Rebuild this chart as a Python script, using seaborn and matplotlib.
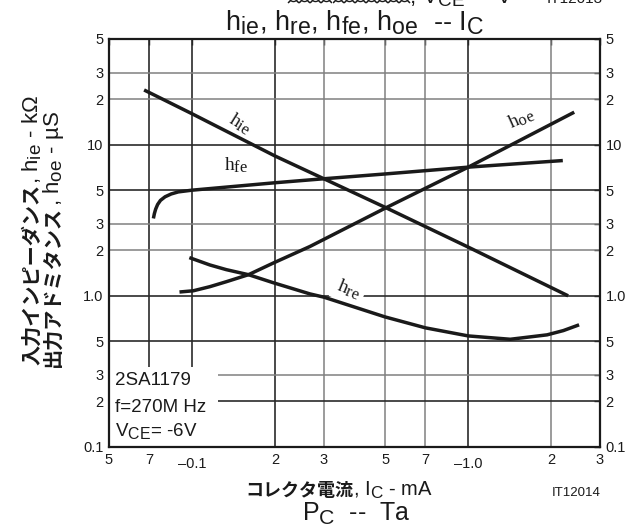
import matplotlib
matplotlib.use('Agg')
import matplotlib.pyplot as plt
import seaborn as sns
import pandas as pd
from matplotlib.patches import Rectangle
from matplotlib.transforms import ScaledTranslation
from matplotlib.ticker import FixedLocator, FixedFormatter, NullLocator

try:
    import matplotlib._mathtext as _mt
    _mt.SHRINK_FACTOR = 0.85
except Exception:
    pass

# ---------------- data ----------------
hie_ic = [0.067, 0.1, 0.2, 0.3, 0.5, 1.0, 2.3]
hie_val = [23.0, 16.0, 8.4, 5.95, 3.85, 2.1, 1.0]

hfe_ic = [0.0724, 0.0730, 0.0738, 0.0750, 0.0768, 0.0798, 0.0840, 0.0891, 0.1, 0.2, 0.3, 0.5, 1.0, 2.2]
hfe_val = [3.25, 3.50, 3.75, 4.02, 4.28, 4.52, 4.72, 4.87, 5.0, 5.6, 5.95, 6.4, 7.1, 7.85]

hoe_ic = [0.090, 0.101, 0.116, 0.133, 0.160, 0.197, 0.267, 0.5, 1.0, 2.42]
hoe_val = [1.06, 1.08, 1.15, 1.24, 1.38, 1.65, 2.12, 3.8, 7.1, 16.4]

hre_ic = [0.0977, 0.116, 0.133, 0.160, 0.197, 0.267, 0.3, 0.5, 0.7, 1.0, 1.42, 1.93, 2.21, 2.52]
hre_val = [1.79, 1.60, 1.49, 1.38, 1.22, 1.03, 0.98, 0.725, 0.614, 0.543, 0.516, 0.552, 0.589, 0.643]

x_ticks = [0.05, 0.07, 0.1, 0.2, 0.3, 0.5, 0.7, 1.0, 2.0, 3.0]
x_tick_labels = ['5', '7', '–0.1', '2', '3', '5', '7', '–1.0', '2', '3']
y_ticks = [0.1, 0.2, 0.3, 0.5, 1.0, 2, 3, 5, 10, 20, 30, 50]
y_tick_labels = ['0.1', '2', '3', '5', '1.0', '2', '3', '5', '10', '2', '3', '5']

x_grid_dark = [0.07, 0.1, 0.2, 1.0]
x_grid_light = [0.3, 0.5, 0.7, 2.0]
y_grid_dark = [0.2, 0.5, 1.0, 5, 10]
y_grid_light = [0.3, 2, 3, 20, 30]

# ---------------- style ----------------
sns.set_theme(style='white')
plt.rcParams['font.family'] = ['Liberation Sans', 'Noto Sans CJK JP', 'DejaVu Sans']
plt.rcParams['mathtext.fontset'] = 'custom'
plt.rcParams['mathtext.rm'] = 'Liberation Serif'
plt.rcParams['mathtext.it'] = 'Liberation Serif:italic'
plt.rcParams['mathtext.bf'] = 'Liberation Sans:bold'
plt.rcParams['mathtext.sf'] = 'Liberation Sans'
plt.rcParams['text.color'] = '#1a1a1a'

W, H = 632, 525
fig = plt.figure(figsize=(W / 100, H / 100), dpi=100)
L, R, T, B = 109, 600, 39, 447
ax = fig.add_axes([L / W, 1 - B / H, (R - L) / W, (B - T) / H])
ax.set_xscale('log')
ax.set_yscale('log')

# grid
for v in x_grid_dark:
    ax.axvline(v, color='#2a2a2a', lw=1.2, zorder=1)
for v in x_grid_light:
    ax.axvline(v, color='#808080', lw=1.1, zorder=1)
for v in y_grid_dark:
    ax.axhline(v, color='#2a2a2a', lw=1.2, zorder=1)
for v in y_grid_light:
    ax.axhline(v, color='#808080', lw=1.1, zorder=1)

# white panel behind the note text
ax.add_patch(Rectangle((0, 0), (218 - L) / (R - L), (B - 367) / (B - T),
                       transform=ax.transAxes, facecolor='white', edgecolor='none', zorder=1.5))

# curves
df = pd.concat([
    pd.DataFrame({'ic': hie_ic, 'val': hie_val, 'param': 'hie'}),
    pd.DataFrame({'ic': hfe_ic, 'val': hfe_val, 'param': 'hfe'}),
    pd.DataFrame({'ic': hoe_ic, 'val': hoe_val, 'param': 'hoe'}),
    pd.DataFrame({'ic': hre_ic, 'val': hre_val, 'param': 'hre'}),
], ignore_index=True)
sns.lineplot(data=df, x='ic', y='val', hue='param', palette=['#1a1a1a'] * 4,
             estimator=None, sort=False, legend=False, lw=2.5, ax=ax, zorder=3)
for ln in ax.get_lines()[-4:]:
    ln.set_solid_capstyle('butt')
    ln.set_solid_joinstyle('round')

ax.set_xlim(0.05, 3)
ax.set_ylim(0.1, 50)
ax.set_xlabel('')
ax.set_ylabel('')

ax.xaxis.set_major_locator(FixedLocator(x_ticks))
ax.xaxis.set_major_formatter(FixedFormatter(x_tick_labels))
ax.xaxis.set_minor_locator(NullLocator())
ax.yaxis.set_major_locator(FixedLocator(y_ticks))
ax.yaxis.set_major_formatter(FixedFormatter(y_tick_labels))
ax.yaxis.set_minor_locator(NullLocator())
ax.tick_params(which='both', direction='in', length=4, width=1, color='#1a1a1a',
               top=True, right=True, labelright=True, labelsize=10.5, pad=4,
               labelcolor='#1a1a1a')
for lab in ax.get_xticklabels():
    if lab.get_text().startswith('–'):
        lab.set_transform(lab.get_transform() + ScaledTranslation(0, -3 / 72, fig.dpi_scale_trans))
for sp in ax.spines.values():
    sp.set_color('#1a1a1a')
    sp.set_linewidth(1.6)
    sp.set_zorder(4)

def fx(px):
    return (px - L) / (R - L)

def fy(py):
    return (B - py) / (B - T)

# curve labels
lab_kw = dict(transform=ax.transAxes, fontsize=14, ha='center', va='center', zorder=4)
ax.text(fx(240), fy(124), r'$\mathrm{h_{ie}}$', rotation=-32, **lab_kw)
ax.text(fx(236), fy(165), r'$\mathrm{h_{fe}}$', rotation=0, **lab_kw)
ax.text(fx(521), fy(119), r'$\mathrm{h_{oe}}$', rotation=24, **lab_kw)
lab_kw2 = dict(lab_kw, zorder=2.2)
ax.text(fx(349), fy(289), r'$\mathrm{h_{re}}$', rotation=-22,
        bbox=dict(facecolor='white', edgecolor='none', pad=3), **lab_kw2)

# note
note_kw = dict(transform=ax.transAxes, fontsize=13.5, ha='left', va='baseline', zorder=4)
ax.text(fx(115), fy(385), '2SA1179', **note_kw)
ax.text(fx(115), fy(412), 'f=270M Hz', **note_kw)
ax.text(fx(115), fy(436), r'$\mathsf{V_{CE}}$= -6V', **note_kw)

# titles / labels
fig.text(355 / W, 1 - 23 / H,
         r'$\mathsf{h_{ie}}$, $\mathsf{h_{re}}$, $\mathsf{h_{fe}}$, $\mathsf{h_{oe}}$  -- $\mathsf{I_{C}}$',
         fontsize=19.5, ha='center', va='center')
fig.text(400 / W, 1 + 2 / H,
         r'コレクタ－エミッタ電圧, $\mathsf{V_{CE}}$  -  V', fontsize=16, ha='center', va='center',
         family=['Liberation Sans', 'Noto Sans CJK JP'])
fig.text(575 / W, 1 + 1 / H, 'IT12013', fontsize=11, ha='center', va='center')

ybase = 1 - 496 / H
fig.text(353 / W, ybase, 'コレクタ電流', fontsize=13, fontweight='bold', ha='right', va='baseline',
         family=['Noto Sans CJK JP', 'DejaVu Sans'])
fig.text(353 / W, ybase, r', $\mathsf{I_{C}}$ - mA', fontsize=14.5, ha='left', va='baseline')
fig.text(576 / W, ybase, 'IT12014', fontsize=9.5, ha='center', va='baseline')
fig.text(356 / W, 1 - 514 / H, r'$\mathsf{P_{C}}$  --  Ta', fontsize=18, ha='center', va='center')

# y labels (two rotated lines)
cjk_pt = 14.5
cjk_px = cjk_pt * 100 / 72
for xb, ybot, jp, lat in [(38, 365, '入力インピーダンス', r', $\mathsf{h_{ie}}$ - kΩ'),
                          (59, 367, '出力アドミタンス', r', $\mathsf{h_{oe}}$ - µS')]:
    fig.text(xb / W, 1 - ybot / H, jp, rotation=90, rotation_mode='anchor', ha='left', va='baseline',
             fontsize=cjk_pt, fontweight='bold', family=['Noto Sans CJK JP', 'DejaVu Sans'])
    yj = ybot - len(jp) * cjk_px
    fig.text(xb / W, 1 - yj / H, lat, rotation=90, rotation_mode='anchor', ha='left', va='baseline',
             fontsize=16, family=['Liberation Sans', 'DejaVu Sans'])

fig.savefig('out.png', dpi=100)
